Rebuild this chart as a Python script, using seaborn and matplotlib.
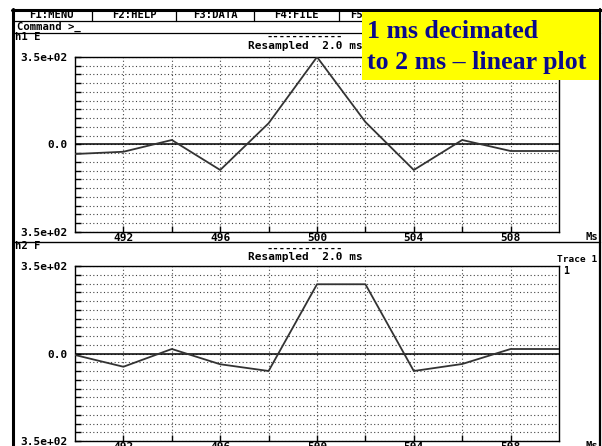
import numpy as np
import pandas as pd
import matplotlib
matplotlib.use("Agg")
import matplotlib.pyplot as plt
from matplotlib.lines import Line2D
from matplotlib.patches import Rectangle
import matplotlib.ticker as mticker
import seaborn as sns

sns.set_theme(style="ticks")
plt.rcParams["font.family"] = ["DejaVu Sans Mono"]

time_ms = [490, 492, 494, 496, 498, 500, 502, 504, 506, 508, 510]
trace_h1 = [-38, -29, 18, -102, 85, 350, 90, -102, 18, -26, -26]
trace_h2 = [-6, -53, 18, -43, -70, 277, 277, -70, -42, 18, 18]

menu_items = ["F1:MENU", "F2:HELP", "F3:DATA", "F4:FILE", "F5:PLOT"]
menu_x = [51, 134, 215, 296, 372]
menu_seps = [92, 176, 254, 339, 418, 500]

x_major = [492, 496, 500, 504, 508]
x_minor = [494, 498, 502, 506]
y_major = [-350, 0, 350]
y_labels = ["3.5e+02", "0.0", "3.5e+02"]
y_minor = np.arange(-350, 351, 35)

W, H = 602, 446
MONO = dict(family="DejaVu Sans Mono", weight="bold", color="black")
FS = 8.0

fig = plt.figure(figsize=(W / 100, H / 100), dpi=100)
fig.patch.set_facecolor("white")


def fx(px):
    return px / W


def fy(py):
    return 1 - py / H


def txt(x, y, s, ha="left", size=FS, **kw):
    fig.text(fx(x), fy(y), s, ha=ha, va="center", fontsize=size, **{**MONO, **kw})


def hline(y, x0, x1, lw=1.0, color="black"):
    fig.add_artist(Line2D([fx(x0), fx(x1)], [fy(y), fy(y)], lw=lw, color=color,
                          transform=fig.transFigure))


def vline(x, y0, y1, lw=1.0, color="black"):
    fig.add_artist(Line2D([fx(x), fx(x)], [fy(y0), fy(y1)], lw=lw, color=color,
                          transform=fig.transFigure))


# ── screen frame ─────────────────────────────────────────────────────
hline(9.5, 12, 601, lw=2.2)
vline(13, 9, 446, lw=2.2)
vline(600, 9, 446, lw=1.6)
hline(21, 13, 600, lw=0.9)
hline(32.5, 13, 600, lw=0.9)
hline(242.5, 13, 600, lw=1.0)
for sx in menu_seps:
    vline(sx, 10, 21, lw=0.9)
for label, mx in zip(menu_items, menu_x):
    txt(mx, 15.5, label, ha="center", size=7.6)
txt(17, 27, "Command >_", size=7.6)


def panel(top, data, name, name_y, dash_y, title_y):
    ax = fig.add_axes([fx(75), fy(top + 175), 484 / W, 175 / H])
    sns.lineplot(x=time_ms, y=data, ax=ax, color="#333333", lw=1.3, zorder=5)
    ax.axhline(0, color="black", lw=1.1, zorder=4)
    ax.set_xlim(490, 510)
    ax.set_ylim(-350, 350)
    ax.set_xticks(x_major)
    ax.set_xticks(x_minor, minor=True)
    ax.set_yticks(y_major)
    ax.set_yticklabels(y_labels)
    ax.set_yticks(y_minor, minor=True)
    ax.xaxis.set_major_formatter(mticker.FormatStrFormatter("%d"))
    ax.grid(which="both", color="#444444", lw=0.8, linestyle=(0, (1, 2.2)))
    ax.tick_params(which="both", direction="in", length=4, width=1, color="black")
    ax.tick_params(axis="x", pad=0.5)
    ax.tick_params(axis="y", pad=5)
    for lab in ax.get_xticklabels() + ax.get_yticklabels():
        lab.set_fontfamily("DejaVu Sans Mono")
        lab.set_fontweight("bold")
        lab.set_fontsize(FS)
        lab.set_color("black")
    for sp in ax.spines.values():
        sp.set_color("black")
        sp.set_linewidth(1.0)
    ax.set_xlabel("")
    ax.set_ylabel("")
    # header of the panel
    txt(15, name_y, name, size=7.6)
    txt(305, dash_y, "------------", ha="center", size=7.6)
    txt(305, title_y, "Resampled  2.0 ms", ha="center")
    txt(585, top + 180, "Ms", size=7.6)
    return ax


ax1 = panel(57, trace_h1, "h1 E", 37, 37, 46)
ax2 = panel(266, trace_h2, "h2 F", 246, 249, 257)
txt(557, 260, "Trace 1", size=6.8)
txt(563, 271, "1", size=7.2)

# ── yellow annotation box ────────────────────────────────────────────
fig.add_artist(Rectangle((fx(362), fy(80)), 237 / W, 68 / H, facecolor="#ffff00",
                         edgecolor="none", transform=fig.transFigure, zorder=10))
for line, ly in [("1 ms decimated", 31), ("to 2 ms \u2013 linear plot", 62)]:
    fig.text(fx(367), fy(ly), line, ha="left", va="center", fontsize=18.6,
             family="Liberation Serif", weight="bold", color="#0a0a8c", zorder=11)

fig.savefig("out.png", dpi=100, facecolor="white")
